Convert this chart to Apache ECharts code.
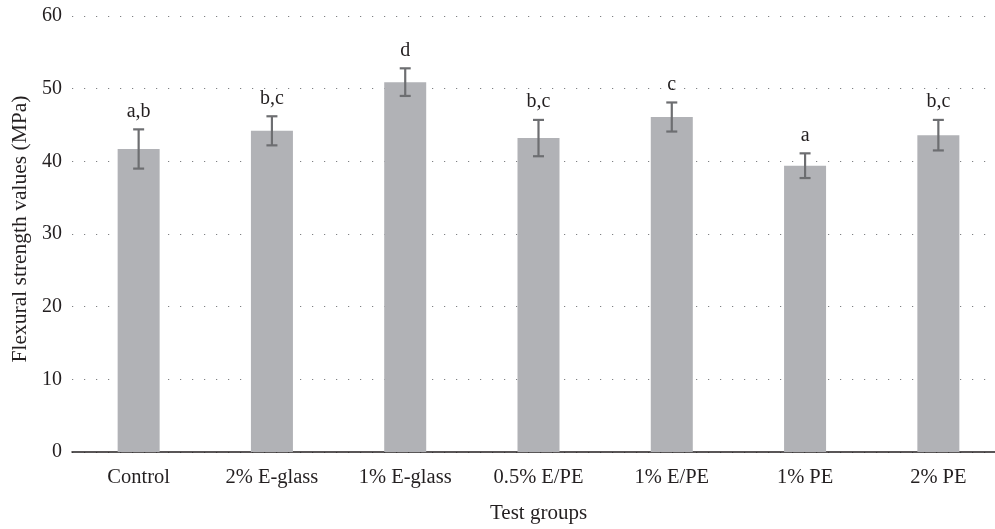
<!DOCTYPE html>
<html>
<head>
<meta charset="UTF-8">
<title></title>
<style>
html,body{margin:0;padding:0;background:#fff}
#chart{width:995px;height:529px}
</style>
</head>
<body>
<div id="chart"></div>
<script src="https://cdn.jsdelivr.net/npm/echarts@6/dist/echarts.min.js"></script>
<script>
var groups = ['Control', '2% E-glass', '1% E-glass', '0.5% E/PE', '1% E/PE', '1% PE', '2% PE'];
var means = [41.7, 44.2, 50.9, 43.2, 46.1, 39.4, 43.6];
var errs = [2.7, 2.0, 1.9, 2.5, 2.0, 1.7, 2.1];
var letters = ['a,b', 'b,c', 'd', 'b,c', 'c', 'a', 'b,c'];
var yTicks = [0, 10, 20, 30, 40, 50, 60];

var font = '"Liberation Serif", "DejaVu Serif", serif';

// [category index, lower end, upper end, letter]
var errData = means.map(function (m, i) {
	return [i, m - errs[i], m + errs[i], letters[i]];
});

var chart = echarts.init(document.getElementById('chart'));
chart.setOption({
	animation: false,
	textStyle: {fontFamily: font},
	grid: {left: 72, top: 16, width: 933, height: 436, containLabel: false, outerBoundsMode: 'none'},
	// y title placed by hand
	graphic: [{
		type: 'text',
		x: 20,
		y: 229,
		rotation: Math.PI / 2,
		style: {
			text: 'Flexural strength values (MPa)',
			font: '21.5px ' + font,
			fill: '#231f20',
			align: 'center',
			verticalAlign: 'middle'
		}
	}],
	xAxis: {
		type: 'category',
		data: groups,
		name: 'Test groups',
		nameLocation: 'middle',
		nameGap: 51,
		nameTextStyle: {fontFamily: font, fontSize: 21, color: '#231f20'},
		axisLine: {lineStyle: {color: '#231f20', width: 1.5}},
		axisTick: {show: false},
		axisLabel: {fontFamily: font, fontSize: 20.5, color: '#231f20', margin: 15}
	},
	yAxis: {
		type: 'value',
		min: yTicks[0],
		max: yTicks[yTicks.length - 1],
		interval: 10,
		axisLine: {show: false},
		axisTick: {show: false},
		axisLabel: {fontFamily: font, fontSize: 20, color: '#231f20', margin: 10},
		splitLine: {lineStyle: {color: '#7f8083', width: 1.2, type: [1.2, 10.8]}}
	},
	series: [
		{
			type: 'bar',
			data: means,
			barWidth: 42,
			itemStyle: {color: '#b1b2b6'}
		},
		{
			type: 'custom',
			data: errData,
			z: 10,
			renderItem: function (params, api) {
				var x = api.value(0);
				var lo = api.coord([x, api.value(1)]);
				var hi = api.coord([x, api.value(2)]);
				var cap = 5.5;
				var st = {stroke: '#6d6e71', lineWidth: 2.2};
				return {
					type: 'group',
					children: [
						{type: 'line', shape: {x1: hi[0], y1: hi[1], x2: lo[0], y2: lo[1]}, style: st},
						{type: 'line', shape: {x1: hi[0] - cap, y1: hi[1], x2: hi[0] + cap, y2: hi[1]}, style: st},
						{type: 'line', shape: {x1: lo[0] - cap, y1: lo[1], x2: lo[0] + cap, y2: lo[1]}, style: st},
						{type: 'text', x: hi[0], y: hi[1] - 8, style: {
							text: api.value(3), fill: '#231f20', font: '20px ' + font,
							align: 'center', verticalAlign: 'bottom'
						}}
					]
				};
			}
		}
	]
});
</script>
</body>
</html>
